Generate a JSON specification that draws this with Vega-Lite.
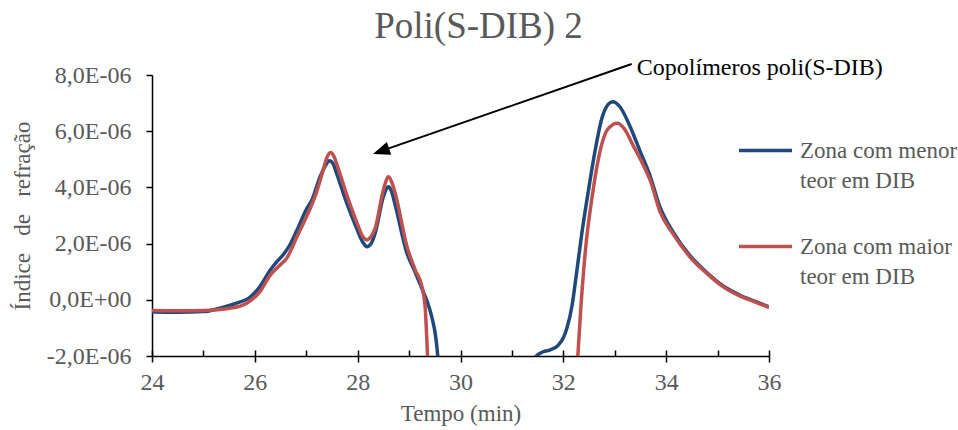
{
  "$schema": "https://vega.github.io/schema/vega-lite/v6.json",
  "width": 617,
  "height": 281,
  "autosize": {"type": "none"},
  "padding": {"left": 152, "top": 75, "right": 189, "bottom": 74},
  "background": "white",
  "config": {
    "font": "Liberation Serif, Times New Roman, serif",
    "view": {"stroke": null},
    "axis": {"grid": false, "labelFont": "Liberation Serif, Times New Roman, serif", "titleFont": "Liberation Serif, Times New Roman, serif"},
    "legend": {"labelFont": "Liberation Serif, Times New Roman, serif"},
    "title": {"font": "Liberation Serif, Times New Roman, serif"},
    "style": {"guide-label": {"lineHeight": 30, "font": "Liberation Serif, Times New Roman, serif"}, "group-title": {"font": "Liberation Serif, Times New Roman, serif"}}
  },
  "title": {"text": "Poli(S-DIB) 2", "font": "Liberation Serif, Times New Roman, serif", "fontSize": 37, "fontWeight": "normal", "color": "#595959", "anchor": "middle", "frame": "group", "dx": 18, "dy": 36, "baseline": "alphabetic", "offset": 17},
  "datasets": {
    "curves": [
      {"serie": "Zona com menor teor em DIB", "tempo": 24.0, "indice": -0.43e-6},
      {"serie": "Zona com menor teor em DIB", "tempo": 24.5, "indice": -0.44e-6},
      {"serie": "Zona com menor teor em DIB", "tempo": 25.0, "indice": -0.42e-6},
      {"serie": "Zona com menor teor em DIB", "tempo": 25.32, "indice": -0.30e-6},
      {"serie": "Zona com menor teor em DIB", "tempo": 25.61, "indice": -0.14e-6},
      {"serie": "Zona com menor teor em DIB", "tempo": 25.91, "indice": 0.10e-6},
      {"serie": "Zona com menor teor em DIB", "tempo": 26.10, "indice": 0.47e-6},
      {"serie": "Zona com menor teor em DIB", "tempo": 26.30, "indice": 1.06e-6},
      {"serie": "Zona com menor teor em DIB", "tempo": 26.43, "indice": 1.36e-6},
      {"serie": "Zona com menor teor em DIB", "tempo": 26.55, "indice": 1.60e-6},
      {"serie": "Zona com menor teor em DIB", "tempo": 26.68, "indice": 1.95e-6},
      {"serie": "Zona com menor teor em DIB", "tempo": 26.82, "indice": 2.48e-6},
      {"serie": "Zona com menor teor em DIB", "tempo": 27.01, "indice": 3.25e-6},
      {"serie": "Zona com menor teor em DIB", "tempo": 27.11, "indice": 3.55e-6},
      {"serie": "Zona com menor teor em DIB", "tempo": 27.27, "indice": 4.38e-6},
      {"serie": "Zona com menor teor em DIB", "tempo": 27.38, "indice": 4.80e-6},
      {"serie": "Zona com menor teor em DIB", "tempo": 27.45, "indice": 4.95e-6},
      {"serie": "Zona com menor teor em DIB", "tempo": 27.52, "indice": 4.85e-6},
      {"serie": "Zona com menor teor em DIB", "tempo": 27.59, "indice": 4.50e-6},
      {"serie": "Zona com menor teor em DIB", "tempo": 27.79, "indice": 3.43e-6},
      {"serie": "Zona com menor teor em DIB", "tempo": 27.98, "indice": 2.54e-6},
      {"serie": "Zona com menor teor em DIB", "tempo": 28.10, "indice": 2.05e-6},
      {"serie": "Zona com menor teor em DIB", "tempo": 28.18, "indice": 1.89e-6},
      {"serie": "Zona com menor teor em DIB", "tempo": 28.26, "indice": 2.00e-6},
      {"serie": "Zona com menor teor em DIB", "tempo": 28.34, "indice": 2.37e-6},
      {"serie": "Zona com menor teor em DIB", "tempo": 28.50, "indice": 3.67e-6},
      {"serie": "Zona com menor teor em DIB", "tempo": 28.60, "indice": 4.02e-6},
      {"serie": "Zona com menor teor em DIB", "tempo": 28.66, "indice": 3.85e-6},
      {"serie": "Zona com menor teor em DIB", "tempo": 28.73, "indice": 3.37e-6},
      {"serie": "Zona com menor teor em DIB", "tempo": 28.96, "indice": 1.65e-6},
      {"serie": "Zona com menor teor em DIB", "tempo": 29.10, "indice": 1.06e-6},
      {"serie": "Zona com menor teor em DIB", "tempo": 29.25, "indice": 0.40e-6},
      {"serie": "Zona com menor teor em DIB", "tempo": 29.34, "indice": 0.0},
      {"serie": "Zona com menor teor em DIB", "tempo": 29.44, "indice": -0.60e-6},
      {"serie": "Zona com menor teor em DIB", "tempo": 29.52, "indice": -1.35e-6},
      {"serie": "Zona com menor teor em DIB", "tempo": 29.56, "indice": -2.05e-6},
      {"serie": "Zona com menor teor em DIB", "tempo": 29.58, "indice": -2.6e-6},
      {"serie": "Zona com menor teor em DIB", "tempo": 31.40, "indice": -2.6e-6},
      {"serie": "Zona com menor teor em DIB", "tempo": 31.45, "indice": -2.05e-6},
      {"serie": "Zona com menor teor em DIB", "tempo": 31.61, "indice": -1.85e-6},
      {"serie": "Zona com menor teor em DIB", "tempo": 31.75, "indice": -1.78e-6},
      {"serie": "Zona com menor teor em DIB", "tempo": 31.90, "indice": -1.62e-6},
      {"serie": "Zona com menor teor em DIB", "tempo": 32.00, "indice": -1.35e-6},
      {"serie": "Zona com menor teor em DIB", "tempo": 32.07, "indice": -1.00e-6},
      {"serie": "Zona com menor teor em DIB", "tempo": 32.17, "indice": -0.20e-6},
      {"serie": "Zona com menor teor em DIB", "tempo": 32.25, "indice": 0.85e-6},
      {"serie": "Zona com menor teor em DIB", "tempo": 32.36, "indice": 2.37e-6},
      {"serie": "Zona com menor teor em DIB", "tempo": 32.49, "indice": 3.91e-6},
      {"serie": "Zona com menor teor em DIB", "tempo": 32.62, "indice": 5.33e-6},
      {"serie": "Zona com menor teor em DIB", "tempo": 32.75, "indice": 6.46e-6},
      {"serie": "Zona com menor teor em DIB", "tempo": 32.88, "indice": 6.97e-6},
      {"serie": "Zona com menor teor em DIB", "tempo": 32.96, "indice": 7.05e-6},
      {"serie": "Zona com menor teor em DIB", "tempo": 33.10, "indice": 6.87e-6},
      {"serie": "Zona com menor teor em DIB", "tempo": 33.30, "indice": 6.16e-6},
      {"serie": "Zona com menor teor em DIB", "tempo": 33.49, "indice": 5.30e-6},
      {"serie": "Zona com menor teor em DIB", "tempo": 33.68, "indice": 4.45e-6},
      {"serie": "Zona com menor teor em DIB", "tempo": 33.88, "indice": 3.30e-6},
      {"serie": "Zona com menor teor em DIB", "tempo": 34.14, "indice": 2.40e-6},
      {"serie": "Zona com menor teor em DIB", "tempo": 34.46, "indice": 1.58e-6},
      {"serie": "Zona com menor teor em DIB", "tempo": 34.79, "indice": 0.97e-6},
      {"serie": "Zona com menor teor em DIB", "tempo": 35.11, "indice": 0.49e-6},
      {"serie": "Zona com menor teor em DIB", "tempo": 35.44, "indice": 0.16e-6},
      {"serie": "Zona com menor teor em DIB", "tempo": 35.72, "indice": -0.05e-6},
      {"serie": "Zona com menor teor em DIB", "tempo": 36.0, "indice": -0.25e-6},
      {"serie": "Zona com maior teor em DIB", "tempo": 24.0, "indice": -0.38e-6},
      {"serie": "Zona com maior teor em DIB", "tempo": 24.5, "indice": -0.39e-6},
      {"serie": "Zona com maior teor em DIB", "tempo": 25.0, "indice": -0.38e-6},
      {"serie": "Zona com maior teor em DIB", "tempo": 25.52, "indice": -0.30e-6},
      {"serie": "Zona com maior teor em DIB", "tempo": 25.84, "indice": -0.12e-6},
      {"serie": "Zona com maior teor em DIB", "tempo": 26.10, "indice": 0.29e-6},
      {"serie": "Zona com maior teor em DIB", "tempo": 26.30, "indice": 0.88e-6},
      {"serie": "Zona com maior teor em DIB", "tempo": 26.49, "indice": 1.24e-6},
      {"serie": "Zona com maior teor em DIB", "tempo": 26.62, "indice": 1.48e-6},
      {"serie": "Zona com maior teor em DIB", "tempo": 26.82, "indice": 2.25e-6},
      {"serie": "Zona com maior teor em DIB", "tempo": 27.05, "indice": 3.14e-6},
      {"serie": "Zona com maior teor em DIB", "tempo": 27.17, "indice": 3.67e-6},
      {"serie": "Zona com maior teor em DIB", "tempo": 27.33, "indice": 4.62e-6},
      {"serie": "Zona com maior teor em DIB", "tempo": 27.40, "indice": 5.05e-6},
      {"serie": "Zona com maior teor em DIB", "tempo": 27.47, "indice": 5.24e-6},
      {"serie": "Zona com maior teor em DIB", "tempo": 27.54, "indice": 5.10e-6},
      {"serie": "Zona com maior teor em DIB", "tempo": 27.61, "indice": 4.74e-6},
      {"serie": "Zona com maior teor em DIB", "tempo": 27.80, "indice": 3.67e-6},
      {"serie": "Zona com maior teor em DIB", "tempo": 27.99, "indice": 2.72e-6},
      {"serie": "Zona com maior teor em DIB", "tempo": 28.10, "indice": 2.25e-6},
      {"serie": "Zona com maior teor em DIB", "tempo": 28.18, "indice": 2.13e-6},
      {"serie": "Zona com maior teor em DIB", "tempo": 28.26, "indice": 2.25e-6},
      {"serie": "Zona com maior teor em DIB", "tempo": 28.34, "indice": 2.54e-6},
      {"serie": "Zona com maior teor em DIB", "tempo": 28.50, "indice": 3.91e-6},
      {"serie": "Zona com maior teor em DIB", "tempo": 28.60, "indice": 4.38e-6},
      {"serie": "Zona com maior teor em DIB", "tempo": 28.66, "indice": 4.20e-6},
      {"serie": "Zona com maior teor em DIB", "tempo": 28.73, "indice": 3.79e-6},
      {"serie": "Zona com maior teor em DIB", "tempo": 28.96, "indice": 1.89e-6},
      {"serie": "Zona com maior teor em DIB", "tempo": 29.12, "indice": 1.06e-6},
      {"serie": "Zona com maior teor em DIB", "tempo": 29.25, "indice": 0.47e-6},
      {"serie": "Zona com maior teor em DIB", "tempo": 29.31, "indice": -0.20e-6},
      {"serie": "Zona com maior teor em DIB", "tempo": 29.34, "indice": -1.20e-6},
      {"serie": "Zona com maior teor em DIB", "tempo": 29.36, "indice": -2.05e-6},
      {"serie": "Zona com maior teor em DIB", "tempo": 29.37, "indice": -2.6e-6},
      {"serie": "Zona com maior teor em DIB", "tempo": 32.26, "indice": -2.6e-6},
      {"serie": "Zona com maior teor em DIB", "tempo": 32.28, "indice": -2.05e-6},
      {"serie": "Zona com maior teor em DIB", "tempo": 32.34, "indice": -0.30e-6},
      {"serie": "Zona com maior teor em DIB", "tempo": 32.43, "indice": 1.77e-6},
      {"serie": "Zona com maior teor em DIB", "tempo": 32.56, "indice": 3.67e-6},
      {"serie": "Zona com maior teor em DIB", "tempo": 32.69, "indice": 5.09e-6},
      {"serie": "Zona com maior teor em DIB", "tempo": 32.82, "indice": 5.93e-6},
      {"serie": "Zona com maior teor em DIB", "tempo": 32.95, "indice": 6.22e-6},
      {"serie": "Zona com maior teor em DIB", "tempo": 33.05, "indice": 6.28e-6},
      {"serie": "Zona com maior teor em DIB", "tempo": 33.18, "indice": 6.10e-6},
      {"serie": "Zona com maior teor em DIB", "tempo": 33.37, "indice": 5.45e-6},
      {"serie": "Zona com maior teor em DIB", "tempo": 33.57, "indice": 4.74e-6},
      {"serie": "Zona com maior teor em DIB", "tempo": 33.70, "indice": 4.20e-6},
      {"serie": "Zona com maior teor em DIB", "tempo": 33.88, "indice": 3.14e-6},
      {"serie": "Zona com maior teor em DIB", "tempo": 34.14, "indice": 2.33e-6},
      {"serie": "Zona com maior teor em DIB", "tempo": 34.46, "indice": 1.53e-6},
      {"serie": "Zona com maior teor em DIB", "tempo": 34.79, "indice": 0.94e-6},
      {"serie": "Zona com maior teor em DIB", "tempo": 35.11, "indice": 0.46e-6},
      {"serie": "Zona com maior teor em DIB", "tempo": 35.44, "indice": 0.13e-6},
      {"serie": "Zona com maior teor em DIB", "tempo": 35.72, "indice": -0.07e-6},
      {"serie": "Zona com maior teor em DIB", "tempo": 36.0, "indice": -0.27e-6}
    ],
    "seta": [
      {"tempo": 33.33, "indice": 8.39e-6, "tempo2": 28.45, "indice2": 5.29e-6}
    ],
    "ponta": [
      {"tempo": 28.454, "indice": 5.288e-6}
    ],
    "rotulo": [
      {"tempo": 33.43, "indice": 8.25e-6, "texto": "Copolímeros poli(S-DIB)"}
    ]
  },
  "encoding": {
    "y": {
      "field": "indice", "type": "quantitative",
      "scale": {"domain": [-2e-6, 8e-6], "nice": false, "zero": false},
      "axis": {
        "values": [-2e-6, 0, 2e-6, 4e-6, 6e-6, 8e-6],
        "tickSize": 6, "labelPadding": 15, "labelFlush": false, "labelOverlap": false,
        "domainColor": "black", "domainWidth": 1.5, "tickColor": "black", "tickWidth": 1.5,
        "labelFont": "Liberation Serif, Times New Roman, serif", "labelFontSize": 24, "labelColor": "#595959",
        "labelExpr": "abs(datum.value) < 0.000000000001 ? '0,0E+00' : (datum.value < 0 ? '-' : '') + replace(format(abs(datum.value) * 1000000, '.1f'), '.', ',') + 'E-06'",
        "title": "Índice\u00a0\u00a0 de\u00a0\u00a0 refração", "titleFont": "Liberation Serif, Times New Roman, serif", "titleFontSize": 23, "titleFontWeight": "normal",
        "titleColor": "#595959", "titleX": -130, "titleY": 140.5, "titleAngle": -90, "titleBaseline": "middle", "titleAlign": "center"
      }
    }
  },
  "layer": [
    {
      "data": {"name": "curves"},
      "mark": {"type": "line", "clip": true, "strokeWidth": 3.5, "interpolate": "monotone"},
      "encoding": {
        "x": {
          "field": "tempo", "type": "quantitative",
          "scale": {"domain": [24, 36], "nice": false, "zero": false},
          "axis": {
            "orient": "bottom",
            "values": [24, 25, 26, 27, 28, 29, 30, 31, 32, 33, 34, 35, 36],
            "tickSize": -6, "labels": false,
            "domainColor": "black", "domainWidth": 1.5, "tickColor": "black", "tickWidth": 1.5,
            "title": "Tempo (min)", "titleFont": "Liberation Serif, Times New Roman, serif", "titleFontSize": 23, "titleFontWeight": "normal",
            "titleColor": "#595959", "titleY": 57, "titleBaseline": "middle"
          }
        },
        "color": {
          "field": "serie", "type": "nominal",
          "scale": {"domain": ["Zona com menor teor em DIB", "Zona com maior teor em DIB"], "range": ["#1F497D", "#C0504D"]},
          "legend": {
            "orient": "none", "legendX": 585, "legendY": 47, "title": null,
            "symbolType": "stroke", "symbolSize": 2809, "symbolStrokeWidth": 3.5,
            "labelFont": "Liberation Serif, Times New Roman, serif", "labelFontSize": 23, "labelColor": "#595959", "labelOffset": 6, "labelLimit": 400,
            "labelBaseline": "middle", "rowPadding": 25,
            "labelExpr": "split(replace(datum.label, ' teor', '|teor'), '|')"
          }
        }
      }
    },
    {
      "data": {"name": "seta"},
      "mark": {"type": "rule", "strokeWidth": 2, "color": "black"},
      "encoding": {
        "x": {
          "field": "tempo", "type": "quantitative",
          "axis": {
            "orient": "bottom", "values": [24, 26, 28, 30, 32, 34, 36],
            "tickSize": 6, "domain": false, "tickColor": "black", "tickWidth": 1.5,
            "labelFont": "Liberation Serif, Times New Roman, serif", "labelFontSize": 24, "labelColor": "#595959", "labelPadding": 8,
            "labelFlush": false, "labelOverlap": false,
            "title": null
          }
        },
        "x2": {"field": "tempo2"},
        "y2": {"field": "indice2"}
      }
    },
    {
      "data": {"name": "ponta"},
      "mark": {"type": "point", "shape": "M0,-1L0.8,1L-0.8,1Z", "size": 289, "angle": 250.9, "filled": true, "color": "black", "opacity": 1},
      "encoding": {
        "x": {"field": "tempo", "type": "quantitative", "axis": null}
      }
    },
    {
      "data": {"name": "rotulo"},
      "mark": {"type": "text", "align": "left", "baseline": "middle", "font": "Liberation Serif, Times New Roman, serif", "fontSize": 24, "color": "black"},
      "encoding": {
        "x": {"field": "tempo", "type": "quantitative", "axis": null},
        "text": {"field": "texto"}
      }
    }
  ],
  "resolve": {"axis": {"x": "independent"}}
}
